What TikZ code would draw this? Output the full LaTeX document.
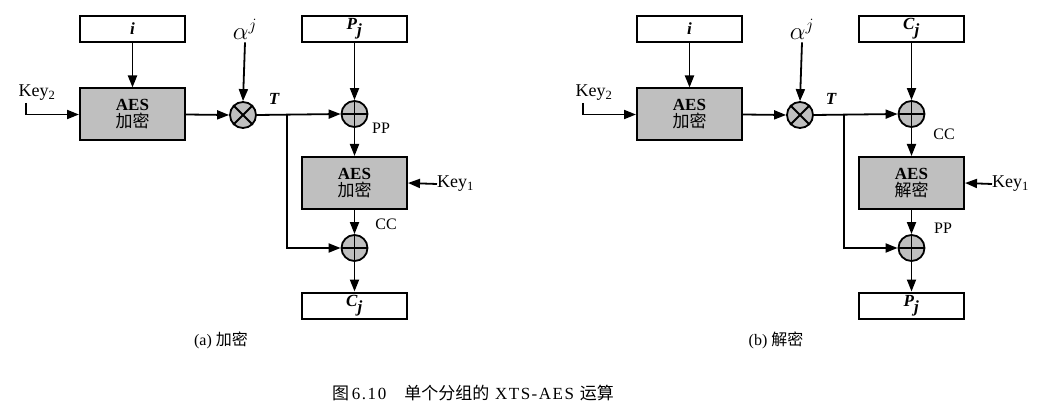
\documentclass[tikz,border=0pt]{standalone}
\usepackage{fontspec}
\setmainfont{Liberation Serif}
\newfontfamily\cjk{Noto Sans CJK SC}
\newfontfamily\capfont{Liberation Serif}[LetterSpace=9]
\usetikzlibrary{arrows.meta}
\tikzset{
  x=1pt,y=-1pt,
  arr/.style={line width=1.8pt,-{Triangle[length=12pt,width=9pt]}},
  ln/.style={line width=1.8pt},
  iobox/.style={draw,line width=2pt,minimum width=105pt,minimum height=26pt,inner sep=0pt,font=\fontsize{17}{17}\selectfont\bfseries\itshape},
  aesbox/.style={draw,line width=2pt,fill=black!25,minimum width=105pt,minimum height=52pt,inner sep=0pt,align=center,font=\fontsize{17}{18}\selectfont},
  op/.style={draw,circle,line width=1.8pt,fill=black!25,minimum size=26pt,inner sep=0pt},
  lbl/.style={font=\fontsize{16}{16}\selectfont,inner sep=0pt},
  keylbl/.style={font=\fontsize{18}{18}\selectfont,inner sep=0pt},
  alphalbl/.style={font=\fontsize{24}{24}\selectfont,inner sep=0pt},
  tlbl/.style={font=\fontsize{17}{17}\selectfont\bfseries\itshape,inner sep=0pt},
}
\newcommand{\aestext}[1]{\textbf{AES}\\[-1pt]{\fontsize{17}{17}\selectfont\cjk #1}}
\begin{document}
\begin{tikzpicture}
\useasboundingbox (0,0) rectangle (1055,409);
% ---------- (a) encryption ----------
\node[iobox] (ia) at (132.5,29) {i};
\node[aesbox] (aesa) at (132.5,114.5) {\aestext{加密}};
\node[keylbl] (k2a) at (37,93) {Key\textsubscript{2}};
\coordinate (k2sa) at (26,103);
\node[op] (mula) at (243,115) {};
\draw[ln] (mula.north east) -- (mula.south west) (mula.north west) -- (mula.south east);
\node[alphalbl] (ala) at (245,29) {$\alpha^{j}$};
\node[tlbl] (ta) at (274,99) {T};
\coordinate (ba) at (287,115);
\node[iobox] (pa) at (354.5,29) {P$_{\textbf{\textit{j}}}$};
\node[op] (adda1) at (354.5,114) {};
\draw[ln] (adda1.north) -- (adda1.south) (adda1.west) -- (adda1.east);
\node[lbl] (ppa) at (381,128) {PP};
\node[aesbox] (aesa2) at (354.5,183) {\aestext{加密}};
\node[keylbl,anchor=west] (k1a) at (437,184) {Key\textsubscript{1}};
\node[lbl] (cca) at (386,224) {CC};
\node[op] (adda2) at (354.5,248) {};
\draw[ln] (adda2.north) -- (adda2.south) (adda2.west) -- (adda2.east);
\node[iobox] (ca) at (354.5,305.5) {C$_{\textbf{\textit{j}}}$};
\node[lbl] (capa) at (221,340) {(a) {\cjk 加密}};
\draw[arr] (ia) -- (aesa);
\draw[arr] (k2sa) |- (aesa.west);
\draw[arr] (aesa.east) -- (mula.west);
\draw[arr] (ala.south) ++(0,3) -- (mula.north);
\draw[arr] (mula.east) -- (adda1.west);
\draw[arr] (ba) |- (adda2.west);
\draw[arr] (pa) -- (adda1.north);
\draw[arr] (adda1.south) -- (aesa2.north);
\draw[arr] (k1a.west) -- (aesa2.east);
\draw[arr] (aesa2.south) -- (adda2.north);
\draw[arr] (adda2.south) -- (ca.north);
% ---------- (b) decryption ----------
\begin{scope}[xshift=557pt]
\node[iobox] (ib) at (132.5,29) {i};
\node[aesbox] (aesb) at (132.5,114.5) {\aestext{加密}};
\node[keylbl] (k2b) at (37,93) {Key\textsubscript{2}};
\coordinate (k2sb) at (26,103);
\node[op] (mulb) at (243,115) {};
\draw[ln] (mulb.north east) -- (mulb.south west) (mulb.north west) -- (mulb.south east);
\node[alphalbl] (alb) at (245,29) {$\alpha^{j}$};
\node[tlbl] (tb) at (274,99) {T};
\coordinate (bb) at (287,115);
\node[iobox] (cb) at (354.5,29) {C$_{\textbf{\textit{j}}}$};
\node[op] (addb1) at (354.5,114) {};
\draw[ln] (addb1.north) -- (addb1.south) (addb1.west) -- (addb1.east);
\node[lbl] (ccb) at (387,134) {CC};
\node[aesbox] (aesb2) at (354.5,183) {\aestext{解密}};
\node[keylbl,anchor=west] (k1b) at (435,184) {Key\textsubscript{1}};
\node[lbl] (ppb) at (386,228) {PP};
\node[op] (addb2) at (354.5,248) {};
\draw[ln] (addb2.north) -- (addb2.south) (addb2.west) -- (addb2.east);
\node[iobox] (pb) at (354.5,305.5) {P$_{\textbf{\textit{j}}}$};
\node[lbl] (capb) at (219,340) {(b) {\cjk 解密}};
\draw[arr] (ib) -- (aesb);
\draw[arr] (k2sb) |- (aesb.west);
\draw[arr] (aesb.east) -- (mulb.west);
\draw[arr] (alb.south) ++(0,3) -- (mulb.north);
\draw[arr] (mulb.east) -- (addb1.west);
\draw[arr] (bb) |- (addb2.west);
\draw[arr] (cb) -- (addb1.north);
\draw[arr] (addb1.south) -- (aesb2.north);
\draw[arr] (k1b.west) -- (aesb2.east);
\draw[arr] (aesb2.south) -- (addb2.north);
\draw[arr] (addb2.south) -- (pb.north);
\end{scope}
\node[lbl,font=\fontsize{17}{17}\capfont] (cap) at (473,393) {{\cjk 图}\,6.10\hspace{18pt}{\cjk 单个分组的} XTS-AES {\cjk 运算}};
\end{tikzpicture}
\end{document}
